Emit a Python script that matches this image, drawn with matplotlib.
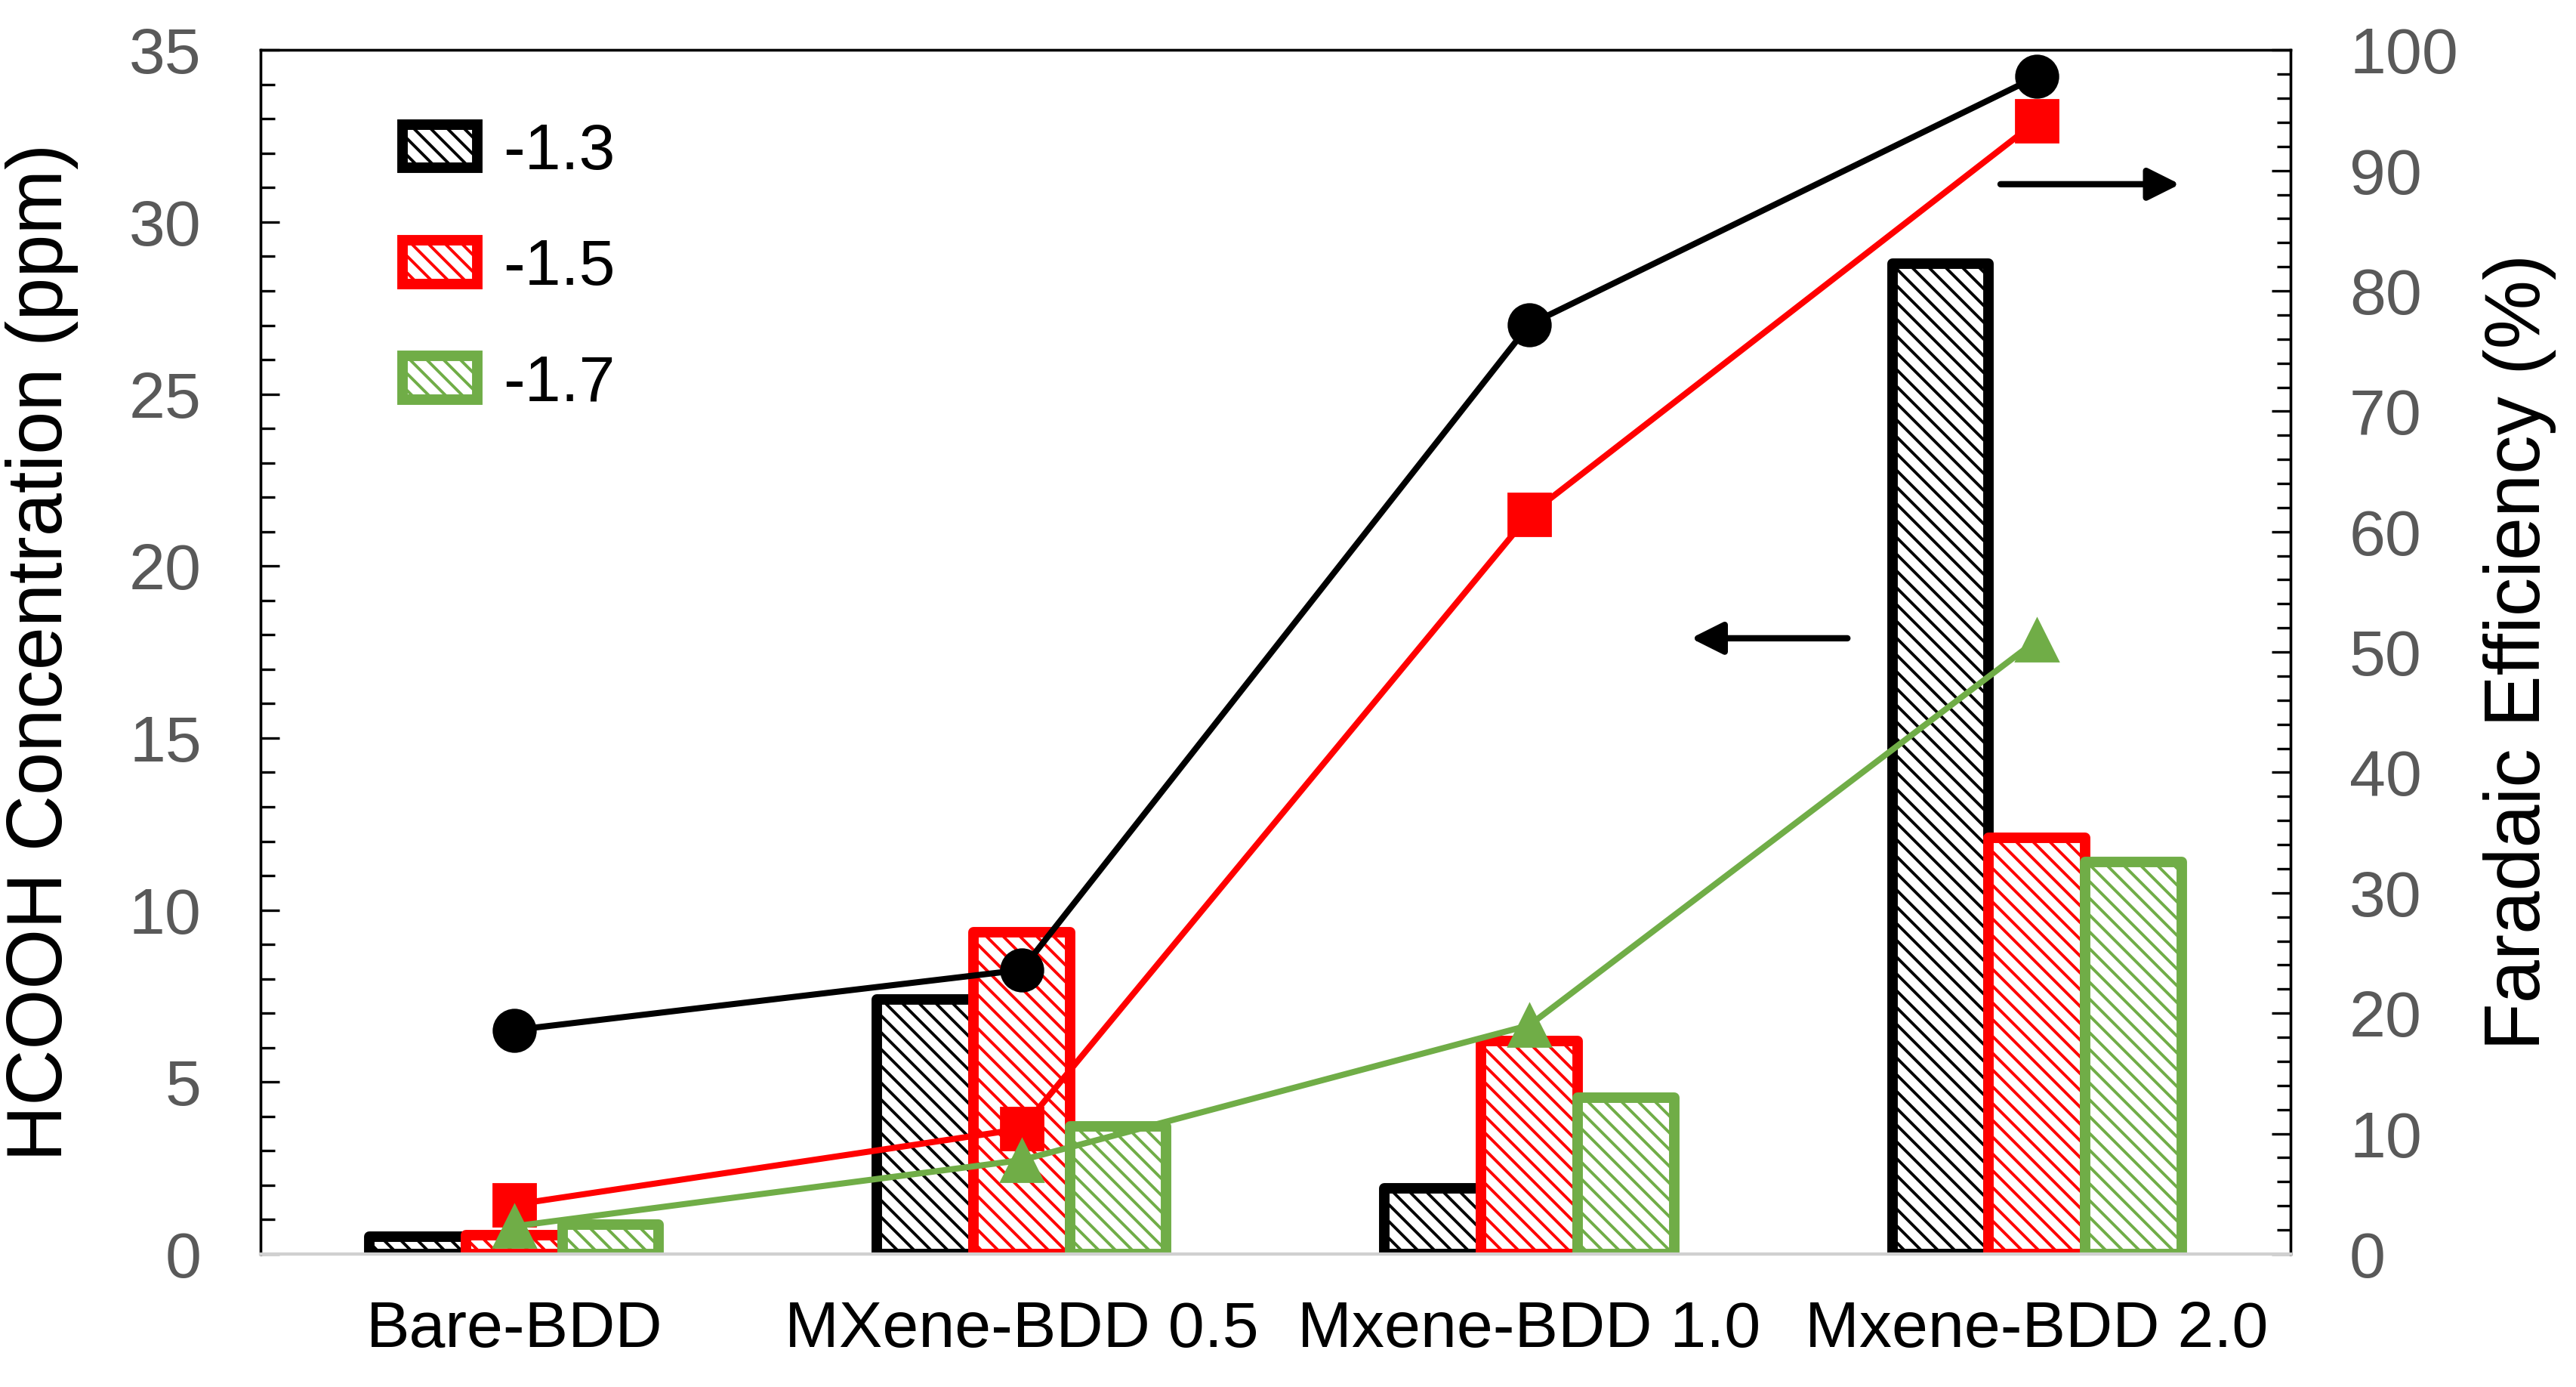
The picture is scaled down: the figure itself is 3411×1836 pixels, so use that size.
import numpy as np
import matplotlib
matplotlib.use("Agg")
import matplotlib.pyplot as plt
from matplotlib.ticker import MultipleLocator

plt.rcParams['font.family'] = ['Liberation Sans', 'DejaVu Sans']
plt.rcParams['hatch.linewidth'] = 1.4

# categories and series
categories = ['Bare-BDD', 'MXene-BDD 0.5', 'Mxene-BDD 1.0', 'Mxene-BDD 2.0']
potentials = ['-1.3', '-1.5', '-1.7']

# HCOOH concentration (ppm), bars
conc_13 = [0.5, 7.4, 1.9, 28.8]
conc_15 = [0.55, 9.35, 6.2, 12.1]
conc_17 = [0.85, 3.7, 4.55, 11.4]

# Faradaic efficiency (%), lines
fe_13 = [18.6, 23.6, 77.2, 97.8]
fe_15 = [4.1, 10.4, 61.4, 94.1]
fe_17 = [2.3, 7.8, 19.0, 51.0]

colors = ['black', '#FF0000', '#70AD47']
markers = ['o', 's', '^']

fig = plt.figure(figsize=(17.06, 9.18), dpi=200)
ax = fig.add_axes([0.101, 0.0959, 0.788, 0.868])
ax2 = ax.twinx()

x = np.arange(len(categories))
w = 0.19
for i, (vals, c, lab) in enumerate(zip([conc_13, conc_15, conc_17], colors, potentials)):
    ax.bar(x + (i - 1) * w, vals, width=w, facecolor='white', edgecolor=c,
           hatch='\\\\\\', linewidth=5, label=lab, joinstyle='round', zorder=2)

for vals, c, m in zip([fe_13, fe_15, fe_17], colors, markers):
    ax2.plot(x, vals, color=c, lw=2.9, marker=m, markersize=20, zorder=3)

ax.set_xlim(-0.5, 3.5)
ax.set_ylim(0, 35)
ax2.set_ylim(0, 100)

ax.yaxis.set_major_locator(MultipleLocator(5))
ax.yaxis.set_minor_locator(MultipleLocator(1))
ax2.yaxis.set_major_locator(MultipleLocator(10))
ax2.yaxis.set_minor_locator(MultipleLocator(2))

ax.set_xticks(x)
ax.set_xticklabels(categories, fontsize=31, color='black')
ax.tick_params(axis='x', length=0, pad=22)
ax.tick_params(axis='y', which='major', direction='in', length=9, width=1.2,
               labelsize=31, labelcolor='#595959', pad=28)
ax.tick_params(axis='y', which='minor', direction='in', length=7, width=1.2)
ax2.tick_params(axis='y', which='major', direction='in', length=9, width=1.2,
                labelsize=31, labelcolor='#595959', pad=28)
ax2.tick_params(axis='y', which='minor', direction='in', length=6.5, width=1.2)

for a in (ax, ax2):
    a.spines['bottom'].set_color('#D0D0D0')
    a.spines['bottom'].set_linewidth(1.5)
    for s in ('left', 'right', 'top'):
        a.spines[s].set_linewidth(1.2)

ax.set_ylabel('HCOOH Concentration (ppm)', fontsize=37, labelpad=24)
ax2.set_ylabel('Faradaic Efficiency (%)', fontsize=37, labelpad=12)

# direction arrows
ax.annotate('', xy=(2.31, 17.9), xytext=(2.635, 17.9),
            arrowprops=dict(arrowstyle='-|>', lw=3, color='black', mutation_scale=32))
ax.annotate('', xy=(3.29, 31.1), xytext=(2.92, 31.1),
            arrowprops=dict(arrowstyle='-|>', lw=3, color='black', mutation_scale=32))

leg = ax.legend(loc='upper left', bbox_to_anchor=(0.07, 0.94), frameon=False,
                fontsize=31, handlelength=1.15, handleheight=0.65,
                handletextpad=0.4, labelspacing=0.85, borderpad=0, borderaxespad=0)

ax.set_zorder(ax2.get_zorder() - 1)
ax.patch.set_visible(True)
ax2.patch.set_visible(False)

fig.savefig('out.png', dpi=200)
